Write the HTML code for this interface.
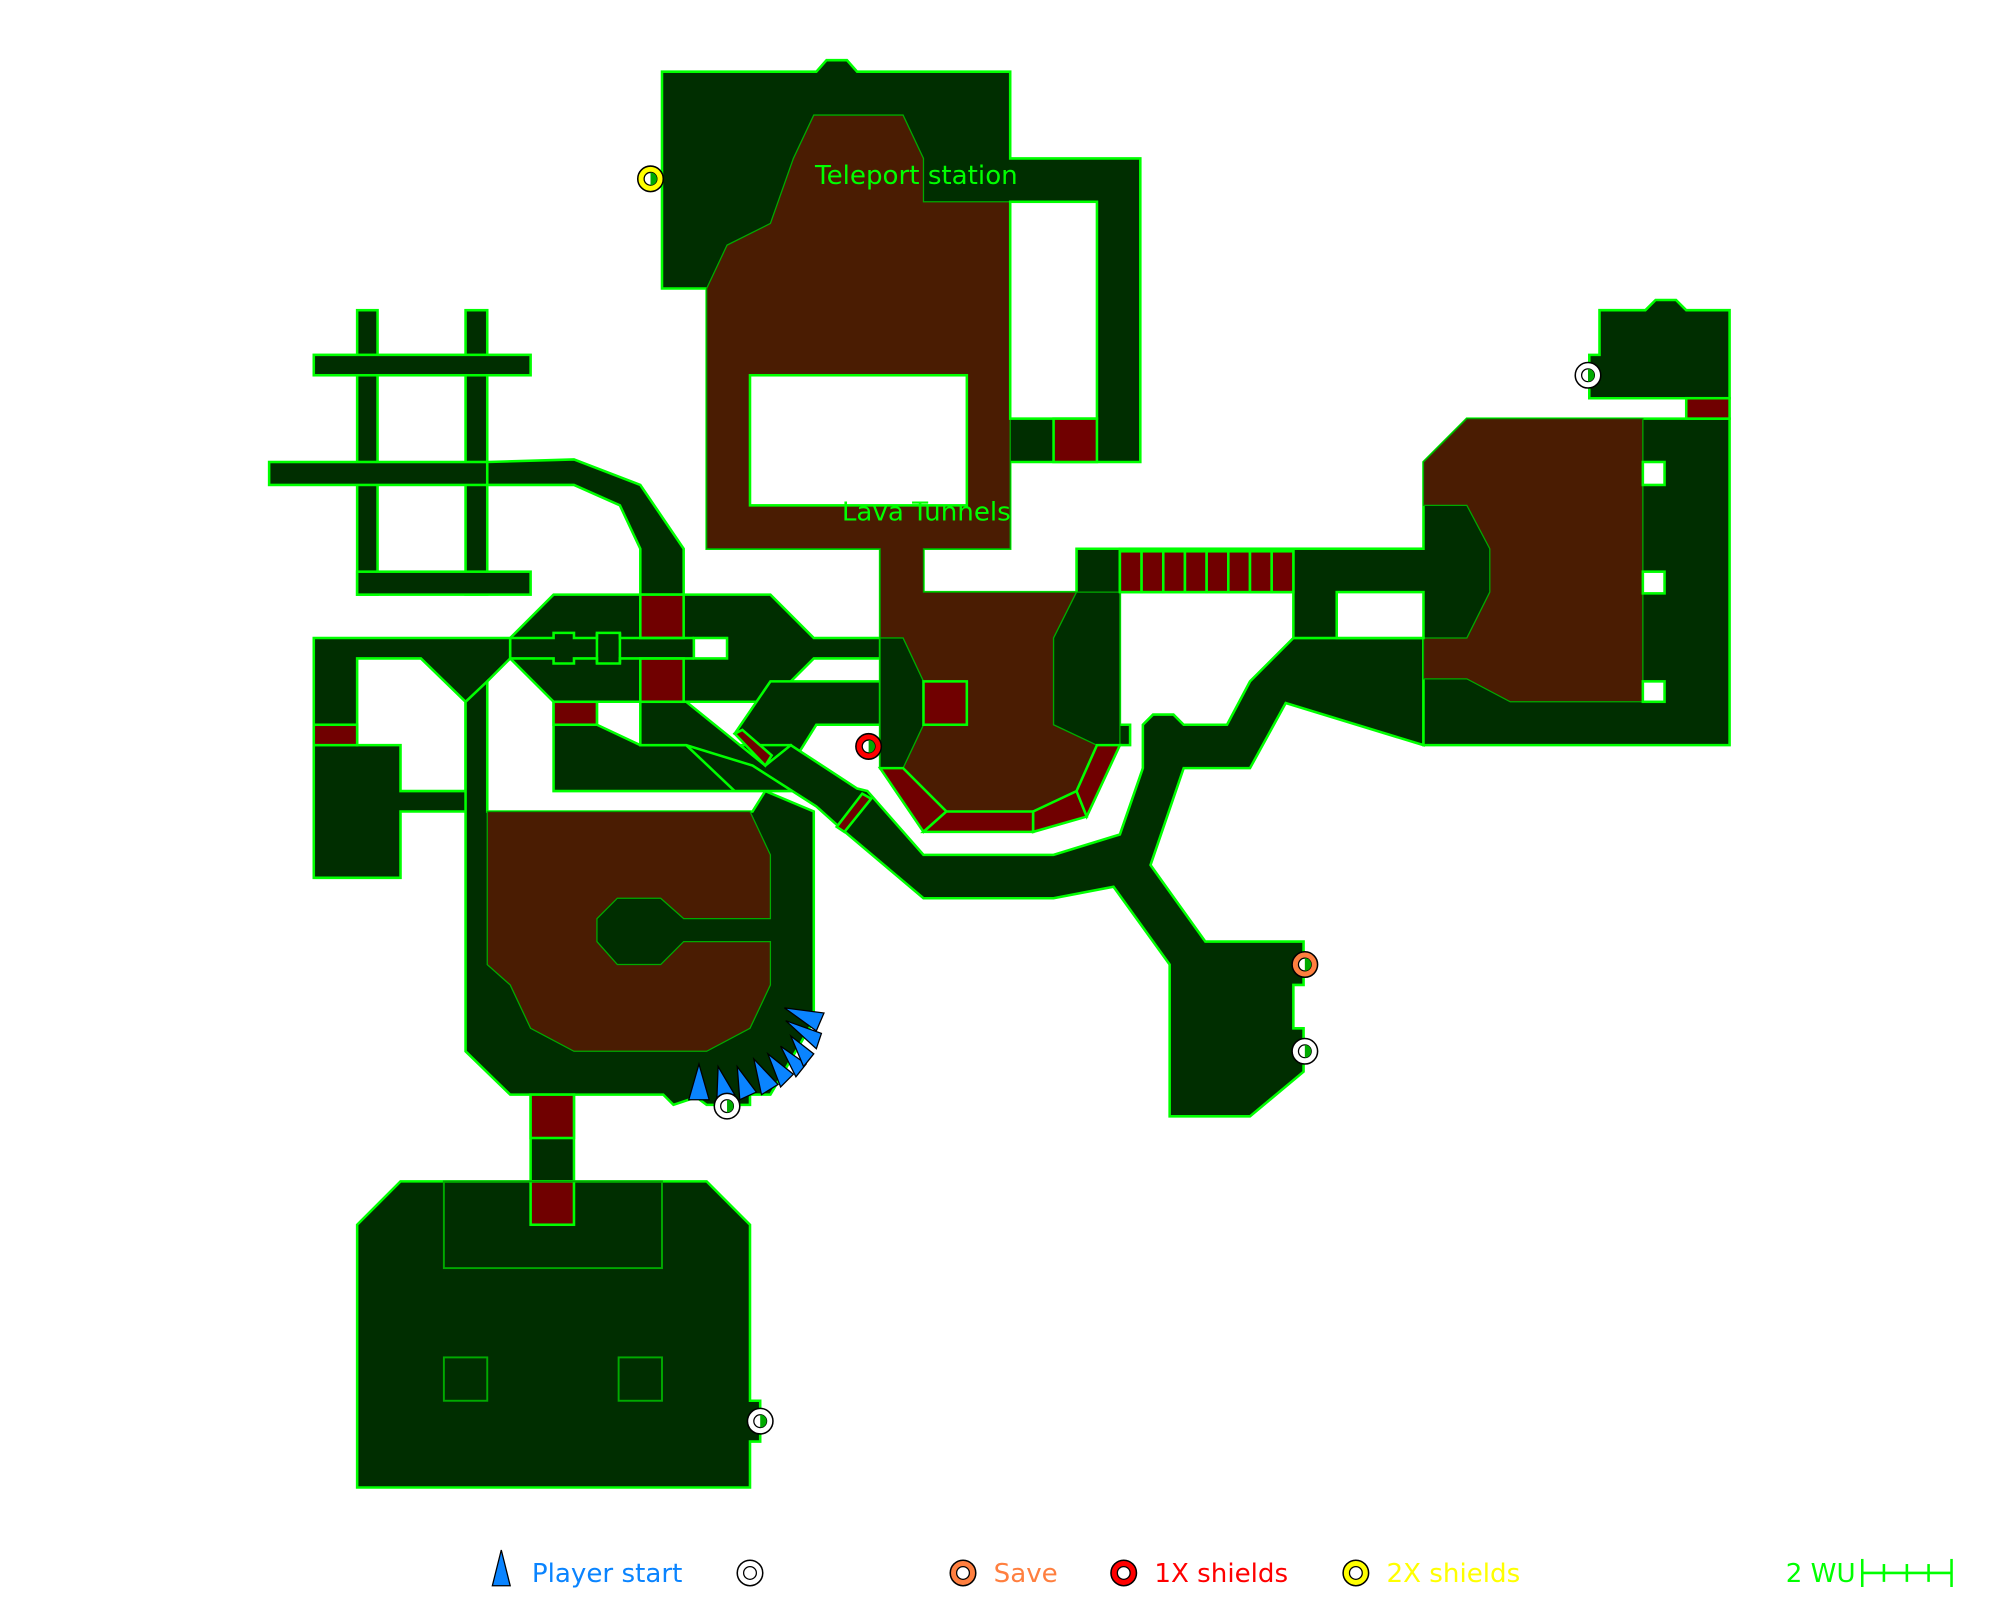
<!DOCTYPE html>
<html><head><meta charset="utf-8"><style>html,body{margin:0;padding:0;background:#fff}svg{display:block}</style></head>
<body>
<svg width="2000" height="1600" viewBox="0 0 1568 1254" xmlns="http://www.w3.org/2000/svg" font-family="DejaVu Sans, Liberation Sans, sans-serif">
<g fill="#002e00" stroke="#00ff00" stroke-width="2" stroke-linejoin="miter">
<rect x="280" y="243" width="16" height="223"/>
<rect x="365" y="243" width="17" height="223"/>
<rect x="246" y="278" width="170" height="16"/>
<rect x="211" y="362" width="171" height="18"/>
<rect x="280" y="448" width="136" height="18"/>
<polygon points="382,362 450,360 502,380 536,430 536,466 502,466 502,430 486,396 450,380 382,380"/>
<polygon points="246,500 400,500 400,516 382,534 382,636 314,636 314,688 246,688"/>
<polygon fill="#fff" points="280,516 330,516 365,550 365,620 314,620 314,584 280,584"/>
<polygon points="519,56 640,56 648,47 664,47 672,56 792,56 792,124 894,124 894,362 792,362 792,430 554,430 554,226 519,226"/>
<polygon points="690,430 724,430 724,464 844,464 844,430 878,430 878,568 886,568 886,584 860,584 844,620 810,636 742,636 708,602 690,602"/>
<polygon points="365,550 382,534 382,636 590,636 600,620 638,636 638,800 604,858 588,858 588,866 554,866 546,860 528,866 520,858 400,858 365,824"/>
<polygon points="400,500 434,466 604,466 638,500 690,500 690,516 638,516 604,550 434,550 400,516"/>
<polygon points="604,534 690,534 690,568 640,568 620,600 576,575"/>
<polygon points="434,550 468,550 468,568 502,584 620,584 620,620 434,620"/>
<polygon points="502,550 538,550 600,600 620,584 672,618 680,620 724,670 826,670 878,654 896,602 896,568 904,560 920,560 928,568 962,568 980,534 1014,500 1116,500 1116,584 1008,551 980,602 928,602 902,678 945,738 1022,738 1022,772 1014,772 1014,806 1022,806 1022,840 980,875 917,875 917,756 873,695 826,704 724,704 660,650 640,632 590,600 538,584 502,584"/>
<rect x="878" y="430" width="238" height="34"/>
<polygon points="1014,430 1116,430 1116,362 1150,328 1356,328 1356,584 1116,584 1116,500 1014,500"/>
<polygon points="1254,243 1290,243 1298,235 1314,235 1322,243 1356,243 1356,312 1246,312 1246,278 1254,278"/>
<rect x="416" y="858" width="34" height="68"/>
<polygon points="314,926 554,926 588,960 588,1098 596,1098 596,1130 588,1130 588,1166 280,1166 280,960"/>
</g>
<g fill="#4a1c02" stroke="#00aa00" stroke-width="1">
<polygon points="554,226 570,192 604,175 622,124 638,90 708,90 724,124 724,158 792,158 792,430 724,430 724,464 844,464 826,500 826,568 860,584 844,620 810,636 742,636 708,602 724,568 724,534 708,500 690,500 690,430 554,430"/>
<polygon points="382,636 588,636 604,670 604,720 536,720 518,704 484,704 468,720 468,738 484,756 518,756 536,738 604,738 604,772 588,806 554,824 450,824 416,806 400,772 382,756"/>
<polygon points="1116,362 1150,328 1288,328 1288,550 1184,550 1150,532 1116,532 1116,500 1150,500 1168,464 1168,430 1150,396 1116,396"/>
</g>
<g fill="#002e00" stroke="#00aa00" stroke-width="1">
<polygon points="690,500 708,500 724,534 724,568 708,602 690,602"/>
<polygon points="844,464 878,464 878,584 860,584 826,568 826,500"/>
</g>
<g fill="#fff" stroke="#00ff00" stroke-width="2">
<rect x="588" y="294" width="170" height="102"/>
<rect x="792" y="158" width="68" height="170"/>
<rect x="1048" y="464" width="68" height="36"/>
<rect x="544" y="500" width="26" height="16"/>
<rect x="1288" y="362" width="17" height="18"/>
<rect x="1288" y="448" width="17" height="17"/>
<rect x="1288" y="534" width="17" height="16"/>
</g>
<g fill="#700000" stroke="#00ff00" stroke-width="2">
<rect x="826" y="328" width="34" height="34"/>
<rect x="724" y="534" width="34" height="34"/>
<rect x="878" y="432" width="17" height="32"/><rect x="895" y="432" width="17" height="32"/>
<rect x="912" y="432" width="17" height="32"/><rect x="929" y="432" width="17" height="32"/>
<rect x="946" y="432" width="17" height="32"/><rect x="963" y="432" width="17" height="32"/>
<rect x="980" y="432" width="17" height="32"/><rect x="997" y="432" width="17" height="32"/>
<polygon points="690,602 708,602 742,636 724,652"/>
<polygon points="742,636 810,636 810,652 724,652"/>
<polygon points="810,636 844,620 852,640 810,652"/>
<polygon points="844,620 860,584 878,584 852,640"/>
<rect x="1322" y="312" width="34" height="16"/>
<rect x="502" y="466" width="34" height="34"/>
<rect x="502" y="516" width="34" height="34"/>
<rect x="434" y="550" width="34" height="18"/>
<rect x="246" y="568" width="34" height="16"/>
<rect x="416" y="858" width="34" height="34"/>
<rect x="416" y="926" width="34" height="34"/>
<polygon points="576,575 582,572 605,592 600,600"/>
<polygon points="656,648 676,622 683,626 662,652"/>
</g>
<g fill="none" stroke="#00ff00" stroke-width="2">
<polyline points="400,500 434,500 434,496 450,496 450,500 468,500 468,496 486,496 486,500 544,500"/>
<polyline points="400,516 434,516 434,520 450,520 450,516 468,516 468,520 486,520 486,516 544,516"/>
<line x1="468" y1="496" x2="468" y2="520"/><line x1="486" y1="496" x2="486" y2="520"/>
<line x1="538" y1="584" x2="576" y2="620"/>
</g>
<g fill="none" stroke="#00aa00" stroke-width="1.5">
<rect x="348" y="926" width="171" height="68"/>
<rect x="348" y="1064" width="34" height="34"/>
<rect x="485" y="1064" width="34" height="34"/>
</g>
<g fill="#0a84ff" stroke="#000" stroke-width="1">
<polygon points="548,834 540,862 556,862"/>
<polygon points="563,836 562,862 576,858"/>
<polygon points="578,836 580,862 593,856"/>
<polygon points="591,830 597,858 610,850"/>
<polygon points="602,826 612,852 622,842"/>
<polygon points="612,820 624,844 632,834"/>
<polygon points="620,812 630,836 638,826"/>
<polygon points="616,800 640,822 644,810"/>
<polygon points="615,790 640,808 646,794"/>
</g>
<defs>
<g id="mk"><circle r="5" fill="#fff" stroke="#000" stroke-width="1"/><path d="M0,-5 A5,5 0 0,1 0,5 Z" fill="#00aa00"/></g>
</defs>
<g stroke="#000" stroke-width="1.2">
<circle cx="510" cy="140" r="10" fill="#ffff00"/>
<circle cx="1245" cy="294" r="10" fill="#fff"/>
<circle cx="681" cy="585" r="10" fill="#ff0000"/>
<circle cx="1023" cy="756" r="10" fill="#ff7f3f"/>
<circle cx="1023" cy="824" r="10" fill="#fff"/>
<circle cx="570" cy="867" r="10" fill="#fff"/>
<circle cx="596" cy="1114" r="10" fill="#fff"/>
</g>
<use href="#mk" x="510" y="140"/><use href="#mk" x="1245" y="294"/><use href="#mk" x="681" y="585"/>
<use href="#mk" x="1023" y="756"/><use href="#mk" x="1023" y="824"/><use href="#mk" x="570" y="867"/><use href="#mk" x="596" y="1114"/>
<text x="639" y="144" font-size="20.5" fill="#00ff00">Teleport station</text>
<text x="660" y="408" font-size="20.5" fill="#00ff00">Lava Tunnels</text>
<polygon points="393,1215 386,1243 400,1243" fill="#0a84ff" stroke="#000" stroke-width="1"/>
<text x="417" y="1240" font-size="20.5" fill="#0a84ff">Player start</text>
<circle cx="588" cy="1233" r="10" fill="#fff" stroke="#000" stroke-width="1.2"/><circle cx="588" cy="1233" r="5" fill="#fff" stroke="#000"/>
<circle cx="755" cy="1233" r="10" fill="#ff7f3f" stroke="#000" stroke-width="1.2"/><circle cx="755" cy="1233" r="5" fill="#fff" stroke="#000"/>
<text x="779" y="1240" font-size="20.5" fill="#ff7f3f">Save</text>
<circle cx="881" cy="1233" r="10" fill="#ff0000" stroke="#000" stroke-width="1.2"/><circle cx="881" cy="1233" r="5" fill="#fff" stroke="#000"/>
<text x="905" y="1240" font-size="20.5" fill="#ff0000">1X shields</text>
<circle cx="1063" cy="1233" r="10" fill="#ffff00" stroke="#000" stroke-width="1.2"/><circle cx="1063" cy="1233" r="5" fill="#fff" stroke="#000"/>
<text x="1087" y="1240" font-size="20.5" fill="#ffff00">2X shields</text>
<text x="1400" y="1240" font-size="20.5" fill="#00ff00">2 WU</text>
<g stroke="#00ff00" stroke-width="2">
<line x1="1460" y1="1233" x2="1530" y2="1233"/>
<line x1="1460" y1="1222" x2="1460" y2="1244"/><line x1="1530" y1="1222" x2="1530" y2="1244"/>
<line x1="1477" y1="1226" x2="1477" y2="1240"/><line x1="1495" y1="1226" x2="1495" y2="1240"/><line x1="1512" y1="1226" x2="1512" y2="1240"/>
</g>
</svg>
</body></html>
